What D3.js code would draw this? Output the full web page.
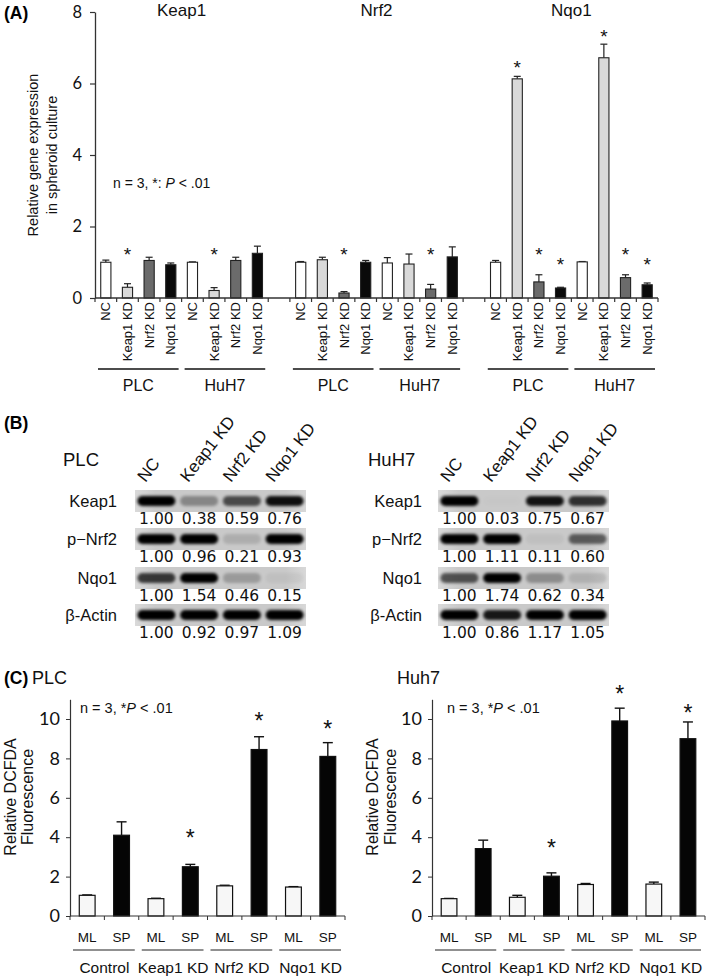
<!DOCTYPE html>
<html><head><meta charset="utf-8">
<script src="https://cdn.jsdelivr.net/npm/d3@7"></script>
<style>body{margin:0;background:#fff} svg{display:block}</style>
</head><body>
<svg id="fig" width="709" height="976"></svg>
<script>
// ---------------- DATA ----------------
const genes = ["Keap1", "Nrf2", "Nqo1"];
const cellLines = ["PLC", "HuH7"];
const conditions = ["NC", "Keap1 KD", "Nrf2 KD", "Nqo1 KD"];
// Panel A (order: PLC NC, Keap1 KD, Nrf2 KD, Nqo1 KD, HuH7 NC, Keap1 KD, Nrf2 KD, Nqo1 KD)
const keap1Mean = [1.00, 0.30, 1.05, 0.93, 1.00, 0.21, 1.05, 1.25];
const keap1Err  = [0.06, 0.10, 0.09, 0.05, 0.01, 0.08, 0.09, 0.20];
const keap1Star = [null, 1.34, null, null, null, 1.34, null, null];
const nrf2Mean  = [1.00, 1.07, 0.14, 1.00, 0.98, 0.95, 0.25, 1.15];
const nrf2Err   = [0.02, 0.07, 0.04, 0.05, 0.15, 0.28, 0.13, 0.28];
const nrf2Star  = [null, null, 1.34, null, null, null, 1.34, null];
const nqo1Mean  = [1.00, 6.13, 0.45, 0.28, 1.01, 6.72, 0.57, 0.37];
const nqo1Err   = [0.05, 0.07, 0.20, 0.02, 0.01, 0.38, 0.08, 0.05];
const nqo1Star  = [null, 6.57, 1.34, 1.06, null, 7.44, 1.34, 1.06];
const yTicksA = [0, 2, 4, 6, 8];

// Panel B (western blot quantification)
const blotRows = ["Keap1", "p\u2212Nrf2", "Nqo1", "\u03b2-Actin"];
const plcQuant  = [[1.00, 0.38, 0.59, 0.76], [1.00, 0.96, 0.21, 0.93], [1.00, 1.54, 0.46, 0.15], [1.00, 0.92, 0.97, 1.09]];
const huh7Quant = [[1.00, 0.03, 0.75, 0.67], [1.00, 1.11, 0.11, 0.60], [1.00, 1.74, 0.62, 0.34], [1.00, 0.86, 1.17, 1.05]];

// Panel C (relative DCFDA fluorescence)
const groupsC = ["Control", "Keap1 KD", "Nrf2 KD", "Nqo1 KD"];
const culture = ["ML", "SP"];
const plcML = [1.05, 0.88, 1.53, 1.47];
const plcMLErr = [0.02, 0.02, 0.03, 0.02];
const plcSP = [4.10, 2.50, 8.45, 8.10];
const plcSPErr = [0.68, 0.12, 0.65, 0.70];
const plcStar = [null, 4.23, 10.15, 9.78];
const huh7ML = [0.88, 0.95, 1.60, 1.62];
const huh7MLErr = [0.01, 0.10, 0.05, 0.10];
const huh7SP = [3.42, 2.02, 9.90, 9.00];
const huh7SPErr = [0.43, 0.17, 0.65, 0.85];
const huh7Star = [null, 3.72, 11.56, 10.6];
const yTicksC = [0, 2, 4, 6, 8, 10];

// ---------------- DRAWING ----------------
const svg = d3.select("#fig");
const fA = "'Liberation Sans', Arial, sans-serif";
const fC = "Lato, 'Liberation Sans', sans-serif";
const axisCol = "#333";

function star(g, x, yc, fs) {
  g.append("text").attr("x", x).attr("y", yc + 0.58 * fs).attr("text-anchor", "middle")
    .attr("font-family", fA).attr("font-size", fs).attr("fill", "#111").text("*");
}

// ===== Panel A =====
const A = svg.append("g");
const catsA = [];
genes.forEach((g, gi) => {
  if (gi > 0) catsA.push("gap" + gi);
  cellLines.forEach(c => conditions.forEach(k => catsA.push(g + "|" + c + "|" + k)));
});
const xA = d3.scaleBand().domain(catsA).range([95, 658]);
const yA = d3.scaleLinear().domain([0, 8]).range([298, 12]);
const fillsA = d3.scaleOrdinal().domain(conditions).range(["#ffffff", "#d9d9d9", "#6b6b6b", "#0a0a0a"]);
const seriesA = { Keap1: [keap1Mean, keap1Err, keap1Star], Nrf2: [nrf2Mean, nrf2Err, nrf2Star], Nqo1: [nqo1Mean, nqo1Err, nqo1Star] };
const recA = [];
genes.forEach(g => cellLines.forEach((c, ci) => conditions.forEach((k, ki) => {
  const i = ci * 4 + ki;
  recA.push({ key: g + "|" + c + "|" + k, cond: k, v: seriesA[g][0][i], e: seriesA[g][1][i], s: seriesA[g][2][i] });
})));
const bwA = xA.bandwidth() * 0.47;
recA.forEach(d => {
  const cx = xA(d.key) + xA.bandwidth() / 2;
  A.append("line").attr("x1", cx).attr("x2", cx).attr("y1", yA(d.v)).attr("y2", yA(d.v + d.e)).attr("stroke", "#222").attr("stroke-width", 1.2);
  A.append("line").attr("x1", cx - 3.5).attr("x2", cx + 3.5).attr("y1", yA(d.v + d.e)).attr("y2", yA(d.v + d.e)).attr("stroke", "#222").attr("stroke-width", 1.2);
  A.append("rect").attr("x", cx - bwA / 2).attr("y", yA(d.v)).attr("width", bwA).attr("height", yA(0) - yA(d.v))
    .attr("fill", fillsA(d.cond)).attr("stroke", "#222").attr("stroke-width", 1.1);
  if (d.s != null) star(A, cx, yA(d.s), 19);
  A.append("text").attr("transform", `translate(${cx},302) rotate(-90)`).attr("text-anchor", "end")
    .attr("dominant-baseline", "central").attr("font-family", fA).attr("font-size", 13).attr("fill", "#111").text(d.cond);
});
// y axis
const ayA = A.append("g").attr("transform", "translate(95,0)")
  .call(d3.axisLeft(yA).tickValues(yTicksA).tickSize(5).tickSizeOuter(0).tickPadding(8));
ayA.select(".domain").attr("stroke", axisCol).attr("stroke-width", 1.3);
ayA.selectAll(".tick line").attr("stroke", axisCol).attr("stroke-width", 1.2);
ayA.selectAll(".tick text").attr("font-family", fC).attr("font-size", 16.5).attr("fill", "#111");
// x axis line & ticks at band boundaries
A.append("line").attr("x1", 95).attr("x2", 658).attr("y1", yA(0)).attr("y2", yA(0)).attr("stroke", axisCol).attr("stroke-width", 1.3);
catsA.concat(["__end"]).forEach((k, i) => {
  const x = i < catsA.length ? xA(k) : xA.range()[1];
  A.append("line").attr("x1", x).attr("x2", x).attr("y1", yA(0)).attr("y2", yA(0) + 4).attr("stroke", axisCol).attr("stroke-width", 1.2);
});
// cell-line group lines
genes.forEach(g => cellLines.forEach(c => {
  const x0 = xA(g + "|" + c + "|NC"), x1 = xA(g + "|" + c + "|Nqo1 KD") + xA.bandwidth();
  A.append("line").attr("x1", x0 + 3).attr("x2", x1 - 3).attr("y1", 369).attr("y2", 369).attr("stroke", "#111").attr("stroke-width", 1.6);
  A.append("text").attr("x", (x0 + x1) / 2).attr("y", 391).attr("text-anchor", "middle").attr("font-family", fA).attr("font-size", 16).attr("fill", "#111").text(c);
}));
// gene titles
genes.forEach(g => {
  const x0 = xA(g + "|PLC|NC"), x1 = xA(g + "|HuH7|Nqo1 KD") + xA.bandwidth();
  A.append("text").attr("x", (x0 + x1) / 2).attr("y", 16).attr("text-anchor", "middle").attr("font-family", fA).attr("font-size", 17).attr("fill", "#111").text(g);
});
A.append("text").attr("x", 4).attr("y", 19).attr("font-family", fA).attr("font-weight", "bold").attr("font-size", 17.5).text("(A)");
// y label
const ylA = A.append("text").attr("transform", "translate(0,155) rotate(-90)").attr("text-anchor", "middle").attr("font-family", fA).attr("font-size", 14.5).attr("fill", "#111");
ylA.append("tspan").attr("x", 0).attr("y", 33).attr("dominant-baseline", "central").text("Relative gene expression");
ylA.append("tspan").attr("x", 0).attr("y", 52).attr("dominant-baseline", "central").text("in spheroid culture");
const annA = A.append("text").attr("x", 113).attr("y", 188).attr("font-family", fA).attr("font-size", 14).attr("fill", "#111");
annA.append("tspan").text("n = 3, *: ");
annA.append("tspan").attr("font-style", "italic").text("P");
annA.append("tspan").text(" < .01");

// ===== Panel B =====
const defs = svg.append("defs");
defs.append("filter").attr("id", "blur").attr("x", "-30%").attr("y", "-80%").attr("width", "160%").attr("height", "260%")
  .append("feGaussianBlur").attr("stdDeviation", 1.4);
const bg = defs.append("linearGradient").attr("id", "blotbg");
bg.append("stop").attr("offset", "0%").attr("stop-color", "#dadada");
bg.append("stop").attr("offset", "12%").attr("stop-color", "#c9c9c9");
bg.append("stop").attr("offset", "88%").attr("stop-color", "#c9c9c9");
bg.append("stop").attr("offset", "100%").attr("stop-color", "#d8d8d8");

const B = svg.append("g");
B.append("text").attr("x", 4).attr("y", 429).attr("font-family", fA).attr("font-weight", "bold").attr("font-size", 17.5).text("(B)");
const rowTops = [490, 528, 567, 604];
function drawBlot(x0, name, nameX, quant, labelRight) {
  const lanes = d3.scaleBand().domain(conditions).range([x0, x0 + 171]);
  const lc = k => lanes(k) + lanes.bandwidth() / 2;
  B.append("text").attr("x", nameX).attr("y", 466).attr("font-family", fA).attr("font-size", 18.5).attr("fill", "#111").text(name);
  conditions.forEach(k => {
    B.append("text").attr("transform", `translate(${lc(k) - 11},483) rotate(-52)`).attr("font-family", fA)
      .attr("font-size", 17).attr("fill", "#111").text(k);
  });
  blotRows.forEach((r, ri) => {
    const top = rowTops[ri];
    B.append("text").attr("x", labelRight).attr("y", top + 11).attr("dominant-baseline", "central").attr("text-anchor", "end")
      .attr("font-family", fA).attr("font-size", 16.5).attr("fill", "#111").text(r);
    B.append("rect").attr("x", x0).attr("y", top).attr("width", 171).attr("height", 22).attr("fill", "url(#blotbg)");
    const mx = d3.max(quant[ri]);
    conditions.forEach((k, ci) => {
      const v = quant[ri][ci];
      const op = Math.min(1, 1.4 * Math.pow(v / mx, 1.5));
      B.append("rect").attr("x", lc(k) - 19).attr("y", top + 6).attr("width", 38).attr("height", 10).attr("rx", 5)
        .attr("fill", "#000").attr("opacity", op).attr("filter", "url(#blur)");
      B.append("text").attr("x", lc(k)).attr("y", top + 29).attr("dominant-baseline", "central").attr("text-anchor", "middle")
        .attr("font-family", "'DejaVu Sans', sans-serif").attr("font-size", 15.5).attr("fill", "#111").text(v.toFixed(2));
    });
  });
}
drawBlot(135, "PLC", 63, plcQuant, 117);
drawBlot(438, "HuH7", 368, huh7Quant, 422);

// ===== Panel C =====
const C = svg.append("g");
C.append("text").attr("x", 4).attr("y", 684).attr("font-family", fA).attr("font-weight", "bold").attr("font-size", 17.5).text("(C)");
function panelC(xs, title, titleX, ML, MLe, SP, SPe, stars, ylX, annX) {
  const cats = [];
  groupsC.forEach(g => culture.forEach(c => cats.push(g + "|" + c)));
  const x = d3.scaleBand().domain(cats).range(xs);
  const y = d3.scaleLinear().domain([0, 11]).range([916, 916 - 11 * 19.7]);
  const bw = x.bandwidth() * 0.46;
  C.append("text").attr("x", titleX).attr("y", 684).attr("font-family", fA).attr("font-size", 18).attr("fill", "#111").text(title);
  groupsC.forEach((g, gi) => {
    culture.forEach(c => {
      const v = c === "ML" ? ML[gi] : SP[gi];
      const e = c === "ML" ? MLe[gi] : SPe[gi];
      const cx = x(g + "|" + c) + x.bandwidth() / 2;
      C.append("line").attr("x1", cx).attr("x2", cx).attr("y1", y(v)).attr("y2", y(v + e)).attr("stroke", "#111").attr("stroke-width", 1.4);
      C.append("line").attr("x1", cx - 5).attr("x2", cx + 5).attr("y1", y(v + e)).attr("y2", y(v + e)).attr("stroke", "#111").attr("stroke-width", 1.4);
      C.append("rect").attr("x", cx - bw / 2).attr("y", y(v)).attr("width", bw).attr("height", y(0) - y(v))
        .attr("fill", c === "ML" ? "#f7f7f7" : "#050505").attr("stroke", "#111").attr("stroke-width", 1.2);
      C.append("text").attr("x", cx).attr("y", 942).attr("text-anchor", "middle").attr("font-family", fA).attr("font-size", 13.5).attr("fill", "#111").text(c);
      if (c === "SP" && stars[gi] != null) star(C, cx, y(stars[gi]), 23);
    });
    const x0 = x(g + "|ML"), x1 = x(g + "|SP") + x.bandwidth();
    C.append("line").attr("x1", x0 + 3).attr("x2", x1 - 4).attr("y1", 950).attr("y2", 950).attr("stroke", "#222").attr("stroke-width", 1.2);
    C.append("text").attr("x", (x0 + x1) / 2).attr("y", 973).attr("text-anchor", "middle").attr("font-family", fA).attr("font-size", 15.5).attr("fill", "#111").text(g);
  });
  const ay = C.append("g").attr("transform", `translate(${xs[0]},0)`)
    .call(d3.axisLeft(y).tickValues(yTicksC).tickSize(4).tickSizeOuter(0).tickPadding(6));
  ay.select(".domain").attr("stroke", axisCol).attr("stroke-width", 1.2);
  ay.selectAll(".tick line").attr("stroke", axisCol);
  ay.selectAll(".tick text").attr("font-family", fC).attr("font-size", 18).attr("fill", "#111");
  C.append("line").attr("x1", xs[0]).attr("x2", xs[1]).attr("y1", y(0)).attr("y2", y(0)).attr("stroke", axisCol).attr("stroke-width", 1.2);
  cats.concat(["__end"]).forEach((k, i) => {
    const xx = i < cats.length ? x(k) : xs[1];
    C.append("line").attr("x1", xx).attr("x2", xx).attr("y1", y(0)).attr("y2", y(0) + 4).attr("stroke", axisCol);
  });
  const yl = C.append("text").attr("transform", "translate(0,797) rotate(-90)").attr("text-anchor", "middle").attr("font-family", fA).attr("font-size", 16).attr("fill", "#111");
  yl.append("tspan").attr("x", 0).attr("y", ylX[0]).attr("dominant-baseline", "central").text("Relative DCFDA");
  yl.append("tspan").attr("x", 0).attr("y", ylX[1]).attr("dominant-baseline", "central").text("Fluorescence");
  const an = C.append("text").attr("x", annX).attr("y", 713).attr("font-family", fA).attr("font-size", 14.5).attr("fill", "#111");
  an.append("tspan").text("n = 3, *");
  an.append("tspan").attr("font-style", "italic").text("P");
  an.append("tspan").text(" < .01");
}
panelC([70, 345], "PLC", 32, plcML, plcMLErr, plcSP, plcSPErr, plcStar, [10, 27], 80);
panelC([432, 705], "Huh7", 397, huh7ML, huh7MLErr, huh7SP, huh7SPErr, huh7Star, [372, 390], 447);
</script>
</body></html>
